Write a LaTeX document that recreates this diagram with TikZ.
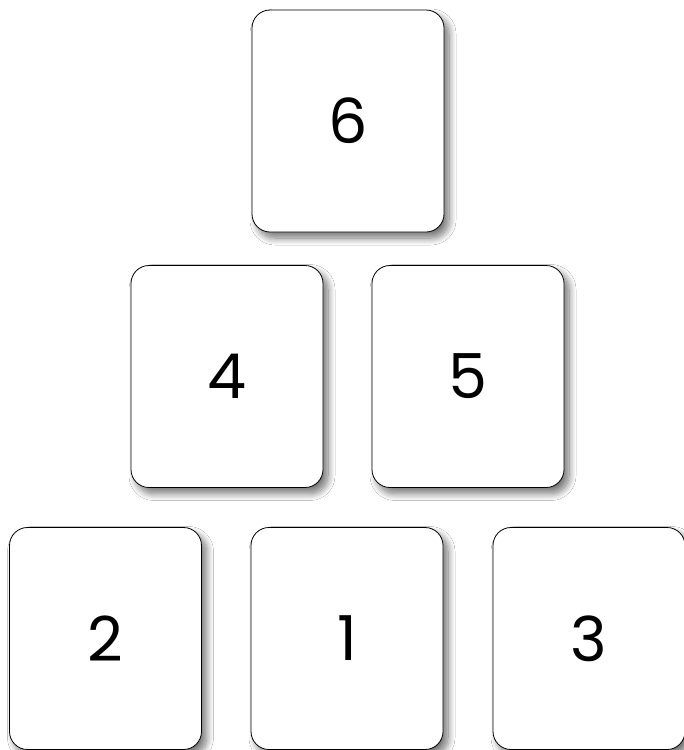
\documentclass[tikz,border=0pt]{standalone}
\usepackage{fontspec}
\setmainfont{Poppins}
\usetikzlibrary{shadows.blur}
\begin{document}
\begin{tikzpicture}[x=1pt,y=-1pt,
  card/.style={draw=black, line width=0.8pt, fill=white, rounded corners=18pt,
    minimum width=192pt, minimum height=222pt, inner sep=0pt,
    font=\fontsize{62}{64}\selectfont,
    blur shadow={shadow xshift=5pt, shadow yshift=-6pt, shadow blur steps=12, shadow blur radius=7pt, shadow opacity=55}}]
\useasboundingbox (0,0) rectangle (684,750);
\fill[white] (0,0) rectangle (684,750);
\clip (0,0) rectangle (684,750);
\node[card] (c6) at (348,121) {6};
\node[card] (c4) at (227,376.5) {4};
\node[card] (c5) at (468,376.5) {5};
\node[card] (c2) at (105.5,638.5) {2};
\node[card] (c1) at (347,638.5) {1};
\node[card] (c3) at (589,638.5) {3};
\end{tikzpicture}
\end{document}
